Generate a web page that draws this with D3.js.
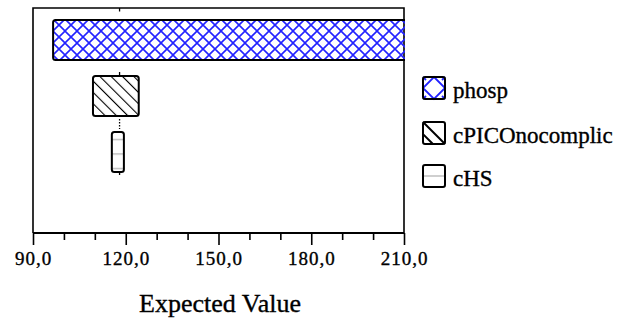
<!DOCTYPE html>
<html>
<head>
<meta charset="utf-8">
<script src="https://cdn.jsdelivr.net/npm/d3@7"></script>
<style>
  html, body { margin: 0; padding: 0; background: #fff; }
  svg { display: block; }
  text { font-family: "Liberation Serif", "Times New Roman", serif; fill: #000; stroke: #000; stroke-width: 0.35px; }
</style>
</head>
<body>
<svg id="chart" width="629" height="321"></svg>
<script>
// Expected-value ranges per strategy
const categories = ["phosp", "cPICOnocomplic", "cHS"];
const lowValues  = [96.5, 109.4, 115.5];
const highValues = [210.0, 124.2, 119.4];
const expectedValue = 118;

// Axis ticks
const majorTicks = [90, 120, 150, 180, 210];
const minorTicks = [100, 110, 130, 140, 160, 170, 190, 200];
const xDomain = [90, 210];
const xTitle = "Expected Value";

const svg = d3.select("#chart");
const plot = { left: 33, right: 404, top: 8, bottom: 233 };

const x = d3.scaleLinear().domain(xDomain).range([plot.left, plot.right]);
const y = d3.scaleBand().domain(categories)
  .range([20, 172]).paddingInner(16 / 56).paddingOuter(0);

// Fill patterns
const defs = svg.append("defs");
const cross = defs.append("pattern").attr("id", "pat-phosp")
  .attr("patternUnits", "userSpaceOnUse").attr("width", 12).attr("height", 12)
  .attr("x", 53).attr("y", 19);
cross.append("path").attr("d", "M0,0L12,12M12,0L0,12M-1,11L1,13M11,-1L13,1")
  .attr("stroke", "#2323ff").attr("stroke-width", 1.6).attr("fill", "none");

const hatch = defs.append("pattern").attr("id", "pat-cpico")
  .attr("patternUnits", "userSpaceOnUse").attr("width", 8).attr("height", 8)
  .attr("patternTransform", "rotate(-45)");
hatch.append("line").attr("x1", 0).attr("y1", 0).attr("x2", 0).attr("y2", 8)
  .attr("stroke", "#000").attr("stroke-width", 2.2);

const lines = defs.append("pattern").attr("id", "pat-chs")
  .attr("patternUnits", "userSpaceOnUse").attr("width", 10).attr("height", 14.5)
  .attr("y", 132);
lines.append("line").attr("x1", 0).attr("x2", 10).attr("y1", 7.5).attr("y2", 7.5)
  .attr("stroke", "#b0b0b0").attr("stroke-width", 1.2);

const fills = ["url(#pat-phosp)", "url(#pat-cpico)", "url(#pat-chs)"];

// Plot frame
svg.append("path")
  .attr("d", `M${plot.left},${plot.bottom}V${plot.top}H${plot.right}V${plot.bottom}`)
  .attr("fill", "none").attr("stroke", "#000").attr("stroke-width", 1.6);

// Short marks at the overall expected value
const ev = x(expectedValue);
const stubs = [
  [plot.top, plot.top + 3.5, null],
  [y("cPICOnocomplic") - 4, y("cPICOnocomplic"), null],
  [y("cPICOnocomplic") + y.bandwidth() + 3, y("cHS") - 3, "1.5,1.5"],
  [y("cHS") + y.bandwidth(), y("cHS") + y.bandwidth() + 3, null]
];
svg.append("g").selectAll("line").data(stubs).join("line")
  .attr("x1", ev).attr("x2", ev)
  .attr("y1", d => d[0]).attr("y2", d => d[1])
  .attr("stroke", "#000").attr("stroke-width", 1.3)
  .attr("stroke-dasharray", d => d[2]);

// Range boxes
const clip = defs.append("clipPath").attr("id", "plot-clip");
clip.append("rect").attr("x", plot.left).attr("y", plot.top)
  .attr("width", plot.right - plot.left + 1).attr("height", plot.bottom - plot.top);

svg.append("g").attr("clip-path", "url(#plot-clip)")
  .selectAll("rect").data(categories).join("rect")
  .attr("x", (d, i) => x(lowValues[i]))
  .attr("y", d => y(d))
  .attr("width", (d, i) => x(highValues[i]) - x(lowValues[i]) + (highValues[i] >= xDomain[1] ? 4 : 0))
  .attr("height", y.bandwidth())
  .attr("rx", 2.5)
  .attr("fill", (d, i) => fills[i])
  .attr("stroke", "#000").attr("stroke-width", 2);

// Axis
const axisG = svg.append("g").attr("transform", `translate(0,${plot.bottom})`);
axisG.call(d3.axisBottom(x).tickValues(minorTicks).tickSize(7).tickFormat(""))
  .call(g => g.select(".domain").remove());
const majorG = svg.append("g").attr("transform", `translate(0,${plot.bottom})`);
majorG.call(d3.axisBottom(x).tickValues(majorTicks).tickSize(12).tickSizeOuter(0)
    .tickFormat(d => d3.format(".1f")(d).replace(".", ",")))
  .call(g => g.select(".domain").attr("stroke-width", 2).attr("d", `M${plot.left},0H${plot.right}`));
svg.selectAll(".tick line").attr("stroke", "#000").attr("stroke-width", 1.6);
majorG.selectAll(".tick text")
  .attr("y", 0).attr("dy", null)
  .attr("transform", "translate(0,32)")
  .style("font-family", '"Liberation Serif", serif')
  .style("font-size", "19px")
  .style("letter-spacing", "1px")
  .attr("fill", "#000");

// Axis title
svg.append("text")
  .attr("x", 220).attr("y", 312)
  .attr("text-anchor", "middle")
  .style("font-size", "26px")
  .text(xTitle);

// Legend
const legend = svg.append("g");
const legendY = [77, 122, 165];
const lg = legend.selectAll("g").data(categories).join("g")
  .attr("transform", (d, i) => `translate(423,${legendY[i]})`);
const sw = 22;
lg.each(function (d, i) {
  const g = d3.select(this);
  g.append("rect").attr("width", sw).attr("height", sw).attr("fill", "#fff");
  if (i === 0) {
    g.append("path")
      .attr("d", `M${sw / 2},0L${sw},${sw / 2}L${sw / 2},${sw}L0,${sw / 2}Z M0,0L3,3M${sw},0L${sw - 3},3M0,${sw}L3,${sw - 3}M${sw},${sw}L${sw - 3},${sw - 3}`)
      .attr("fill", "none").attr("stroke", "#2323ff").attr("stroke-width", 1.8);
  } else if (i === 1) {
    g.append("path")
      .attr("d", `M0,0L${sw},${sw}M0,${sw * 0.55}L${sw * 0.45},${sw}`)
      .attr("fill", "none").attr("stroke", "#000").attr("stroke-width", 2);
  } else {
    g.append("line").attr("x1", 0).attr("x2", sw).attr("y1", sw / 2).attr("y2", sw / 2)
      .attr("stroke", "#b0b0b0").attr("stroke-width", 1.2);
  }
  g.append("rect").attr("width", sw).attr("height", sw).attr("rx", 2)
    .attr("fill", "none").attr("stroke", "#000").attr("stroke-width", 2);
  g.append("text").attr("x", 30).attr("y", sw - 1)
    .style("font-size", "23px").text(d);
});
</script>
</body>
</html>
